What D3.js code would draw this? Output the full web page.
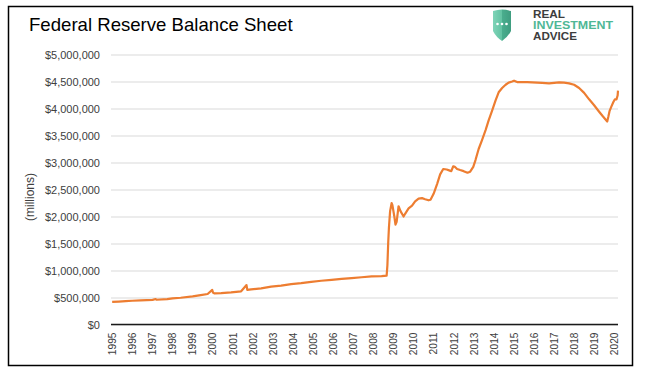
<!DOCTYPE html>
<meta charset="utf-8">
<style>* {padding:0; margin:0; border:0;} body {background:#fff;}</style>
<body>
<script src="https://d3js.org/d3.v7.min.js"></script>
<script>
// values, millions of dollars
var dates = [
  "1995-01-04","1995-05-03","1995-09-06","1996-01-03","1996-06-05","1997-01-08","1997-03-05","1997-03-19",
  "1997-10-01","1998-01-07","1998-06-03","1999-01-06","1999-06-02","1999-10-06","1999-12-29","2000-01-12",
  "2000-02-09","2000-06-07","2000-12-06","2001-06-06","2001-09-12","2001-09-26","2001-12-05","2002-06-05",
  "2002-12-04","2003-06-04","2003-12-03","2004-06-02","2004-12-01","2005-06-01","2005-12-07","2006-06-07",
  "2006-12-06","2007-06-06","2007-12-05","2008-06-04","2008-09-03","2008-09-17","2008-10-01","2008-10-15",
  "2008-11-05","2008-12-03","2008-12-17","2009-01-21","2009-02-11","2009-03-04","2009-04-08","2009-05-13",
  "2009-07-08","2009-08-05","2009-10-07","2009-12-09","2010-02-03","2010-04-07","2010-06-09","2010-08-04",
  "2010-10-06","2010-11-10","2011-01-05","2011-03-09","2011-05-04","2011-06-29","2011-08-31","2011-10-26",
  "2011-11-23","2011-12-28","2012-01-25","2012-03-07","2012-05-02","2012-07-04","2012-09-12","2012-10-31",
  "2012-12-26","2013-02-06","2013-04-03","2013-06-05","2013-08-07","2013-10-02","2013-12-04","2014-02-05",
  "2014-04-02","2014-06-04","2014-08-06","2014-10-01","2014-12-03","2015-01-07","2015-03-04","2015-06-03",
  "2015-09-02","2015-12-02","2016-03-02","2016-06-01","2016-10-05","2017-01-04","2017-04-05","2017-07-05",
  "2017-10-04","2018-01-03","2018-04-04","2018-07-04","2018-10-03","2019-01-02","2019-04-03","2019-06-05",
  "2019-08-28","2019-09-18","2019-10-09","2019-11-13","2019-12-18","2020-01-15","2020-02-12","2020-03-04",
  "2020-03-11"
];
var values = [
  420000,425000,432000,440000,446000,456000,472000,458000,
  470000,485000,495000,520000,545000,565000,640000,590000,
  575000,580000,595000,615000,730000,640000,650000,670000,
  700000,720000,748000,765000,790000,810000,828000,845000,
  860000,875000,890000,895000,905000,1100000,1500000,1800000,
  2100000,2250000,2210000,2000000,1850000,1900000,2190000,2100000,
  2000000,2050000,2150000,2200000,2280000,2330000,2340000,2320000,
  2300000,2310000,2420000,2600000,2780000,2880000,2870000,2850000,
  2840000,2930000,2920000,2880000,2860000,2840000,2810000,2830000,
  2920000,3050000,3250000,3420000,3600000,3780000,3960000,4150000,
  4300000,4380000,4440000,4480000,4500000,4515000,4490000,4490000,
  4490000,4485000,4480000,4475000,4465000,4475000,4485000,4480000,
  4465000,4440000,4380000,4290000,4170000,4060000,3940000,3860000,
  3760000,3850000,3950000,4040000,4120000,4170000,4170000,4240000,
  4330000
];
var years = d3.range(1995, 2021);
var yTicks = d3.range(0, 5000001, 500000);

var parse = d3.timeParse("%Y-%m-%d");
var series = dates.map(function(d, i){ return [parse(d), values[i]]; });
var font = "'Liberation Sans', Arial, sans-serif";

var svg = d3.select("body").append("svg")
    .attr("width", 645).attr("height", 374)
    .style("font-family", font);

// frame
svg.append("rect").attr("x", 8.5).attr("y", 6.5).attr("width", 624).attr("height", 359)
    .attr("fill", "none").attr("stroke", "#000").attr("stroke-width", 1.5);

svg.append("text").attr("x", 29).attr("y", 30.5)
    .attr("font-size", 18.6).attr("fill", "#000")
    .text("Federal Reserve Balance Sheet");

var x = d3.scaleTime().domain([parse("1995-01-01"), parse("2020-03-11")]).range([112, 618]);
var y = d3.scaleLinear().domain([0, 5000000]).range([324.5, 54.5]);

var fmt = d3.format("$,");
var yAxis = svg.append("g").attr("transform", "translate(111,0)")
    .call(d3.axisLeft(y).tickValues(yTicks).tickSize(-507).tickPadding(11).tickFormat(fmt));
yAxis.select(".domain").remove();
yAxis.selectAll("line").attr("stroke", "#d9d9d9").attr("stroke-width", 1);
yAxis.selectAll("text").attr("font-size", 11).attr("fill", "#404040").attr("font-family", font);

// zero line
svg.append("line").attr("x1", 111).attr("x2", 618).attr("y1", y(0)).attr("y2", y(0))
    .attr("stroke", "#1a1a1a").attr("stroke-width", 1.4);

var xAxis = svg.append("g").attr("transform", "translate(0," + y(0) + ")")
    .call(d3.axisBottom(x).tickValues(years.map(function(v){ return new Date(v, 0, 1); }))
      .tickSize(0).tickFormat(d3.timeFormat("%Y")));
xAxis.select(".domain").remove();
xAxis.selectAll("text")
    .attr("font-size", 10.2).attr("fill", "#404040").attr("font-family", font)
    .attr("text-anchor", "end")
    .attr("transform", "rotate(-90)")
    .attr("x", -8).attr("y", 0).attr("dy", "0.35em");

svg.append("text").attr("transform", "translate(34,197) rotate(-90)")
    .attr("text-anchor", "middle").attr("font-size", 12).attr("fill", "#404040")
    .text("(millions)");

svg.append("path").datum(series)
    .attr("fill", "none").attr("stroke", "#ed7d31").attr("stroke-width", 2.2)
    .attr("stroke-linejoin", "round")
    .attr("d", d3.line().x(function(d){ return x(d[0]); }).y(function(d){ return y(d[1]); }));

// logo
var defs = svg.append("defs");
var lg = defs.append("linearGradient").attr("id", "sh").attr("x1", 0).attr("x2", 1);
lg.append("stop").attr("offset", "0").attr("stop-color", "#7fd4b8");
lg.append("stop").attr("offset", "0.5").attr("stop-color", "#62c2a2");
lg.append("stop").attr("offset", "0.5").attr("stop-color", "#4aae8e");
lg.append("stop").attr("offset", "1").attr("stop-color", "#3f9d80");
svg.append("path")
    .attr("d", "M493,11 Q502,8 511,11 L511,31 Q508,37 502,41 Q496,37 493,31 Z")
    .attr("fill", "url(#sh)");
[497.5, 502, 506.5].forEach(function(cx){
  svg.append("circle").attr("cx", cx).attr("cy", 24).attr("r", 1.3).attr("fill", "#fff");
});
var logo = svg.append("g").attr("font-size", 10.5).attr("font-weight", "bold")
    .attr("font-family", font);
logo.append("text").attr("x", 533).attr("y", 17.5).attr("fill", "#3d3d3d")
    .attr("textLength", 32).attr("lengthAdjust", "spacingAndGlyphs").text("REAL");
logo.append("text").attr("x", 533).attr("y", 28.5).attr("fill", "#4fb795")
    .attr("textLength", 80).attr("lengthAdjust", "spacingAndGlyphs").text("INVESTMENT");
logo.append("text").attr("x", 533).attr("y", 39.5).attr("fill", "#3d3d3d")
    .attr("textLength", 44).attr("lengthAdjust", "spacingAndGlyphs").text("ADVICE");
</script>
